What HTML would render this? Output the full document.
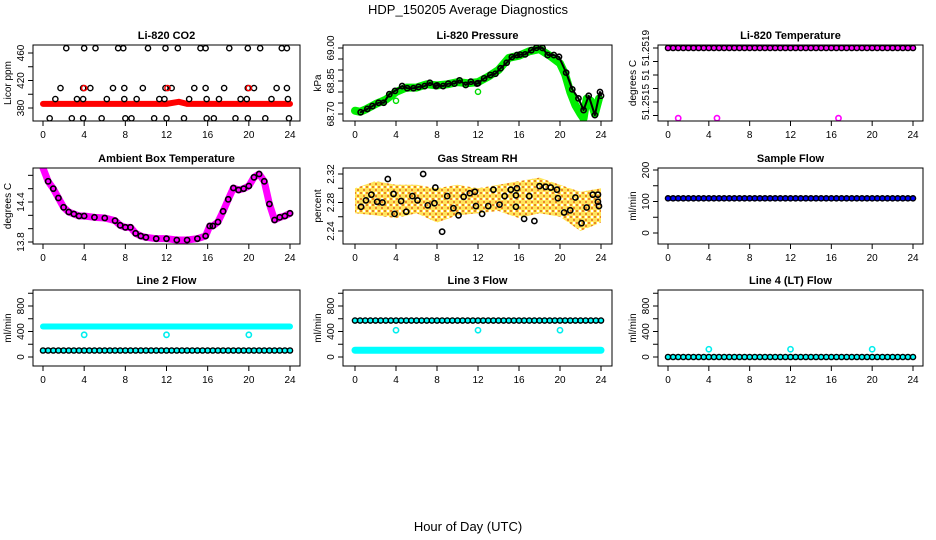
<!DOCTYPE html>
<html><head><meta charset="utf-8"><style>
body{margin:0;background:#fff;}
svg{display:block;font-family:"Liberation Sans",Arial,sans-serif;}
</style></head><body>
<svg id="c" width="936" height="540" viewBox="0 0 936 540">
<defs>
<pattern id="rhpat" width="6" height="6" patternUnits="userSpaceOnUse"><rect width="6" height="6" fill="#ffe040"/><rect x="0" y="0" width="2" height="2" fill="#e87000"/><rect x="3" y="3" width="2" height="2" fill="#e87000"/><rect x="3" y="0" width="2" height="2" fill="#fff"/></pattern>
</defs>
<text x="468" y="14" text-anchor="middle" font-size="13">HDP_150205  Average Diagnostics</text>
<text x="468" y="531" text-anchor="middle" font-size="13">Hour of Day (UTC)</text>
</svg>
<script>
// ---- data ----
var xTicks=[0,4,8,12,16,20,24];
var halfHours=[0,0.5,1,1.5,2,2.5,3,3.5,4,4.5,5,5.5,6,6.5,7,7.5,8,8.5,9,9.5,10,10.5,11,11.5,12,12.5,13,13.5,14,14.5,15,15.5,16,16.5,17,17.5,18,18.5,19,19.5,20,20.5,21,21.5,22,22.5,23,23.5,24];
// CO2
var co2TopHours=[2.26,4.0,5.1,7.3,7.8,10.2,11.9,13.1,15.3,15.8,18.1,19.9,21.1,23.2,23.7];
var co2TopValue=467;
var co2MidHours=[1.7,3.9,4.6,6.8,7.9,9.7,11.9,12.5,14.7,15.8,17.6,19.9,20.5,22.7,23.7];
var co2MidValue=409;
var co2RedMidHours=[4.0,12.1,20.0];
var co2LowHours=[1.2,3.3,3.9,6.2,7.9,9.1,11.3,11.8,14.2,15.9,17.1,19.2,19.8,22.2,23.8];
var co2LowValue=393;
var co2BotHours=[0.65,2.8,3.9,5.7,8.0,8.6,10.8,12.0,13.7,15.9,16.6,18.7,19.9,21.6,23.9];
var co2BotValue=365;
var co2RedHours=[0,2,4,6,8,10,12,13.2,14,16,18,20,22,24];
var co2RedValues=[386,386,386,386,386,386,386,389,386,386,386,386,386,386];
// Pressure
var presHours=[0.55,1.2,1.7,2.3,2.8,3.35,3.9,4.6,5.1,5.7,6.2,6.8,7.3,7.9,8.0,8.6,9.1,9.7,10.2,10.8,11.3,11.9,12.0,12.6,13.2,13.7,14.2,14.8,15.3,15.8,16.1,16.6,17.2,17.7,18.3,18.8,19.4,19.9,20.6,21.2,21.8,22.3,22.8,23.4,23.9,24.0];
var presValues=[68.708,68.723,68.736,68.751,68.751,68.79,68.805,68.827,68.817,68.817,68.823,68.827,68.842,68.827,68.83,68.827,68.838,68.838,68.853,68.832,68.847,68.838,68.84,68.862,68.877,68.883,68.908,68.933,68.959,68.968,68.97,68.971,68.99,69.001,69.0,68.968,68.968,68.96,68.888,68.812,68.771,68.718,68.783,68.695,68.8,68.783];
var presGreenHours=[0,0.5,1,2,3,4,5,6,7,8,9,10,11,12,13,14,15,16,17,18,19,20,20.5,21,21.5,22,22.3,22.6,23,23.4,23.8];
var presGreenValues=[68.715,68.71,68.72,68.745,68.765,68.8,68.82,68.82,68.835,68.83,68.835,68.845,68.84,68.845,68.87,68.9,68.955,68.965,68.985,68.995,68.965,68.93,68.88,68.8,68.74,68.7,68.68,68.77,68.76,68.7,68.77];
var presOutHours=[4.0,12.0];
var presOutValues=[68.76,68.801];
// Li-820 temperature
var tempLevel=[51.2519,51.2519,51.2519,51.2519,51.2519,51.2519,51.2519,51.2519,51.2519,51.2519,51.2519,51.2519,51.2519,51.2519,51.2519,51.2519,51.2519,51.2519,51.2519,51.2519,51.2519,51.2519,51.2519,51.2519,51.2519,51.2519,51.2519,51.2519,51.2519,51.2519,51.2519,51.2519,51.2519,51.2519,51.2519,51.2519,51.2519,51.2519,51.2519,51.2519,51.2519,51.2519,51.2519,51.2519,51.2519,51.2519,51.2519,51.2519,51.2519];
var tempOutHours=[1.0,4.8,16.7];
var tempOutValues=[51.25138,51.25138,51.25138];
// Ambient box temperature
var ambHours=[0,0.5,1,1.5,2,2.5,3,3.5,4,5,6,7,7.5,8,8.5,9,9.5,10,11,12,13,14,15,15.8,16.2,16.5,17,17.5,18,18.5,19,19.5,20,20.5,21,21.5,22,22.5,23,23.5,24];
var ambValues=[14.91,14.71,14.6,14.46,14.32,14.25,14.22,14.19,14.19,14.17,14.16,14.12,14.05,14.02,14.02,13.93,13.89,13.87,13.85,13.85,13.83,13.83,13.85,13.89,14.04,14.04,14.1,14.26,14.44,14.61,14.58,14.6,14.64,14.77,14.82,14.71,14.37,14.13,14.17,14.19,14.23];
// Gas stream RH
var rhHours=[0.59,1.07,1.6,2.16,2.68,3.2,3.76,3.86,4.5,5.0,5.6,6.1,6.65,7.1,7.75,7.84,8.5,9.0,9.6,10.1,10.6,11.2,11.7,11.8,12.4,13.0,13.5,14.1,14.6,15.2,15.7,15.8,15.7,16.5,17.0,17.5,18.0,18.6,19.1,19.7,19.8,20.4,21.0,21.5,22.1,22.6,23.2,23.7,23.7,23.8];
var rhValues=[2.274,2.283,2.291,2.281,2.28,2.313,2.292,2.264,2.282,2.267,2.289,2.283,2.32,2.276,2.279,2.301,2.239,2.289,2.272,2.262,2.288,2.293,2.295,2.275,2.264,2.275,2.298,2.277,2.289,2.298,2.29,2.3,2.274,2.257,2.289,2.254,2.303,2.302,2.301,2.298,2.286,2.266,2.269,2.287,2.251,2.273,2.291,2.291,2.281,2.275];
var rhBandHours=[0,2,4,6,8,10,12,14,16,18,20,22,24];
var rhBandUpper=[2.30,2.31,2.305,2.305,2.30,2.305,2.30,2.305,2.31,2.315,2.305,2.295,2.30];
var rhBandLower=[2.265,2.262,2.258,2.265,2.252,2.262,2.265,2.268,2.258,2.265,2.26,2.24,2.252];
// Sample flow
var sampleLevel=[110,110,110,110,110,110,110,110,110,110,110,110,110,110,110,110,110,110,110,110,110,110,110,110,110,110,110,110,110,110,110,110,110,110,110,110,110,110,110,110,110,110,110,110,110,110,110,110,110];
// Line flows
var line2Upper=[478,478,478,478,478,478,478,478,478,478,478,478,478,478,478,478,478,478,478,478,478,478,478,478,478,478,478,478,478,478,478,478,478,478,478,478,478,478,478,478,478,478,478,478,478,478,478,478,478];
var line2Lower=[102,102,102,102,102,102,102,102,102,102,102,102,102,102,102,102,102,102,102,102,102,102,102,102,102,102,102,102,102,102,102,102,102,102,102,102,102,102,102,102,102,102,102,102,102,102,102,102,102];
var line3Upper=[572,572,572,572,572,572,572,572,572,572,572,572,572,572,572,572,572,572,572,572,572,572,572,572,572,572,572,572,572,572,572,572,572,572,572,572,572,572,572,572,572,572,572,572,572,572,572,572,572];
var line3Cyan=[106,106,106,106,106,106,106,106,106,106,106,106,106,106,106,106,106,106,106,106,106,106,106,106,106,106,106,106,106,106,106,106,106,106,106,106,106,106,106,106,106,106,106,106,106,106,106,106,106];
var line4Level=[0,0,0,0,0,0,0,0,0,0,0,0,0,0,0,0,0,0,0,0,0,0,0,0,0,0,0,0,0,0,0,0,0,0,0,0,0,0,0,0,0,0,0,0,0,0,0,0,0];
var flowOutHours=[4,12,20];
var line2OutValues=[348,348,348];
var line3OutValues=[420,420,420];
var line4OutValues=[122,122,122];

// ---- drawing ----
var svg=document.getElementById('c');
var NS='http://www.w3.org/2000/svg';
function el(tag,attrs,parent){var e=document.createElementNS(NS,tag);for(var k in attrs)e.setAttribute(k,attrs[k]);(parent||svg).appendChild(e);return e;}
function mkPanel(o){
  o.X=function(h){return o.x0+(o.x24-o.x0)*h/24;};
  o.Y=function(v){return o.ya+(o.yb-o.ya)*(v-o.va)/(o.vb-o.va);};
  var g=el('g',{});
  
  
  o.g=g;
  var t=el('text',{x:(o.bx0+o.bx1)/2,y:o.by0-6,'text-anchor':'middle','font-size':11,'font-weight':'bold'},g);
  t.textContent=o.title;
  
  
  var yl=el('text',{transform:'translate('+(o.bx0-22)+','+((o.by0+o.by1)/2)+') rotate(-90)','text-anchor':'middle','font-size':10},g);
  yl.textContent=o.ylab;
  
  
  var xa=el('g',{stroke:'#000','stroke-width':1},g);
  
  
  xTicks.forEach(function(h){
    var x=o.X(h);
    el('line',{x1:x,x2:x,y1:o.by1,y2:o.by1+5},xa);
    var tx=el('text',{x:x,y:o.by1+17,'text-anchor':'middle','font-size':10,stroke:'none'},g);
    tx.textContent=h;
    
    
  });
  var ya=el('g',{stroke:'#000','stroke-width':1},g);
  
  
  o.yTicks.forEach(function(v){var y=o.Y(v);el('line',{x1:o.bx0-5,x2:o.bx0,y1:y,y2:y},ya);});
  o.yLabels.forEach(function(v,i){
    var y=o.Y(v);
    var tx=el('text',{transform:'translate('+(o.bx0-9)+','+y+') rotate(-90)','text-anchor':'middle','font-size':10},g);
    tx.textContent=o.yLabelText[i];
    
    
  });
  var clip=el('clipPath',{id:'cl'+o.name},g);
  el('rect',{x:o.bx0,y:o.by0,width:o.bx1-o.bx0,height:o.by1-o.by0},clip);
  o.d=el('g',{'clip-path':'url(#cl'+o.name+')'},g);
  
  
  return o;
}
function frame(o){var r=el('rect',{x:o.bx0,y:o.by0,width:o.bx1-o.bx0,height:o.by1-o.by0,fill:'none',stroke:'#000','stroke-width':1},o.g);}
function pts(o,hs,vs,color,r,sw,name){
  hs.forEach(function(h,i){
    var c=el('circle',{cx:o.X(h),cy:o.Y(vs[i]),r:r||2.6,fill:'none',stroke:color,'stroke-width':sw||1.4},o.d);
    
    
  });
}
function band(o,hs,vs,color,w,name){
  var p=hs.map(function(h,i){return o.X(h)+','+o.Y(vs[i]);}).join(' ');
  var l=el('polyline',{points:p,fill:'none',stroke:color,'stroke-width':w,'stroke-linejoin':'round','stroke-linecap':'round'},o.d);
  
  
}
function dense(o,vs,color,name,fillCol){
  band(o,halfHours,vs,fillCol||color,5,name+'-band');
  pts(o,halfHours,vs,color,2.6,1.4,name);
}

var C1=[33,300,43,290],C2=[343,612,355,601],C3=[658,923,668,913];
var R1=[45,121],R2=[168,244],R3=[290,366];
function P(c,r,extra){var o={bx0:c[0],bx1:c[1],x0:c[2],x24:c[3],by0:r[0],by1:r[1]};for(var k in extra)o[k]=extra[k];return mkPanel(o);}

var p1=P(C1,R1,{name:'co2-panel',title:'Li-820 CO2',ylab:'Licor ppm',va:380,ya:108,vb:460,yb:53,yTicks:[380,400,420,440,460],yLabels:[380,420,460],yLabelText:['380','420','460']});
band(p1,co2RedHours,co2RedValues,'#ff0000',6,'co2-red-series');
pts(p1,co2TopHours,co2TopHours.map(function(){return co2TopValue;}),'#000',2.6,1.4,'co2-point');
pts(p1,co2MidHours,co2MidHours.map(function(){return co2MidValue;}),'#000',2.6,1.4,'co2-point');
pts(p1,co2RedMidHours,co2RedMidHours.map(function(){return co2MidValue;}),'#ff0000',2.6,1.4,'co2-red-point');
pts(p1,co2LowHours,co2LowHours.map(function(){return co2LowValue;}),'#000',2.6,1.4,'co2-point');
pts(p1,co2BotHours,co2BotHours.map(function(){return co2BotValue;}),'#000',2.6,1.4,'co2-point');
frame(p1);

var p2=P(C2,R1,{name:'pressure-panel',title:'Li-820 Pressure',ylab:'kPa',va:68.70,ya:114,vb:69.00,yb:48,yTicks:[68.70,68.75,68.80,68.85,68.90,68.95,69.00],yLabels:[68.70,68.85,69.00],yLabelText:['68.70','68.85','69.00']});
band(p2,presGreenHours,presGreenValues,'#00ee00',8,'pressure-green-series');
pts(p2,presOutHours,presOutValues,'#00dd00',2.6,1.4,'pressure-green-point');
band(p2,presHours,presValues,'#000',2,'pressure-black-line');
pts(p2,presHours,presValues,'#000',2.6,1.6,'pressure-point');
frame(p2);

var p3=P(C3,R1,{name:'li820-temp-panel',title:'Li-820 Temperature',ylab:'degrees C',va:51.2515,ya:102,vb:51.2519,yb:48,yTicks:[51.2514,51.2515,51.2516,51.2517,51.2518,51.2519],yLabels:[51.2515,51.2517,51.2519],yLabelText:['51.2515','51','51.2519']});
dense(p3,tempLevel,'#000','li820-temp-point','#ff00ff');
pts(p3,tempOutHours,tempOutValues,'#ff00ff',2.6,1.6,'li820-temp-outlier');
frame(p3);

var p4=P(C1,R2,{name:'ambient-temp-panel',title:'Ambient Box Temperature',ylab:'degrees C',va:13.8,ya:242,vb:14.4,yb:202,yTicks:[13.8,14.0,14.2,14.4,14.6,14.8],yLabels:[13.8,14.4],yLabelText:['13.8','14.4']});
band(p4,ambHours,ambValues,'#ff00ff',7,'ambient-magenta-series');
pts(p4,ambHours.slice(1),ambValues.slice(1),'#000',2.6,1.6,'ambient-point');
frame(p4);

var p5=P(C2,R2,{name:'rh-panel',title:'Gas Stream RH',ylab:'percent',va:2.24,ya:231,vb:2.32,yb:174,yTicks:[2.24,2.26,2.28,2.30,2.32],yLabels:[2.24,2.28,2.32],yLabelText:['2.24','2.28','2.32']});
(function(){
  var p=rhBandHours.map(function(h,i){return p5.X(h)+','+p5.Y(rhBandUpper[i]);}).concat(rhBandHours.slice().reverse().map(function(h,i){var j=rhBandHours.length-1-i;return p5.X(h)+','+p5.Y(rhBandLower[j]);})).join(' ');
  var pg=el('polygon',{points:p,fill:'url(#rhpat)',opacity:0.85},p5.d);
  
  
})();
pts(p5,rhHours,rhValues,'#000',2.6,1.6,'rh-point');
frame(p5);

var p6=P(C3,R2,{name:'sample-flow-panel',title:'Sample Flow',ylab:'ml/min',va:0,ya:233,vb:200,yb:170,yTicks:[0,50,100,150,200],yLabels:[0,100,200],yLabelText:['0','100','200']});
dense(p6,sampleLevel,'#000','sample-flow-point','#0000ff');
frame(p6);

var flowOpts={va:0,ya:357,vb:800,yb:306,ylab:'ml/min',yTicks:[0,200,400,600,800,1000],yLabels:[0,400,800],yLabelText:['0','400','800']};
function fo(n,t){var o={name:n,title:t};for(var k in flowOpts)o[k]=flowOpts[k];return o;}
var p7=P(C1,R3,fo('line2-flow-panel','Line 2 Flow'));
band(p7,halfHours,line2Upper,'#00ffff',6,'line2-cyan-upper');
dense(p7,line2Lower,'#000','line2-flow-point','#00ffff');
pts(p7,flowOutHours,line2OutValues,'#00eeee',2.6,1.6,'line2-outlier');
frame(p7);
var p8=P(C2,R3,fo('line3-flow-panel','Line 3 Flow'));
band(p8,halfHours,line3Cyan,'#00ffff',7,'line3-cyan-lower');
dense(p8,line3Upper,'#000','line3-flow-point','#00ffff');
pts(p8,flowOutHours,line3OutValues,'#00eeee',2.6,1.6,'line3-outlier');
frame(p8);
var p9=P(C3,R3,fo('line4-flow-panel','Line 4 (LT) Flow'));
dense(p9,line4Level,'#000','line4-flow-point','#00ffff');
pts(p9,flowOutHours,line4OutValues,'#00eeee',2.6,1.6,'line4-outlier');
frame(p9);
</script>
</body></html>
